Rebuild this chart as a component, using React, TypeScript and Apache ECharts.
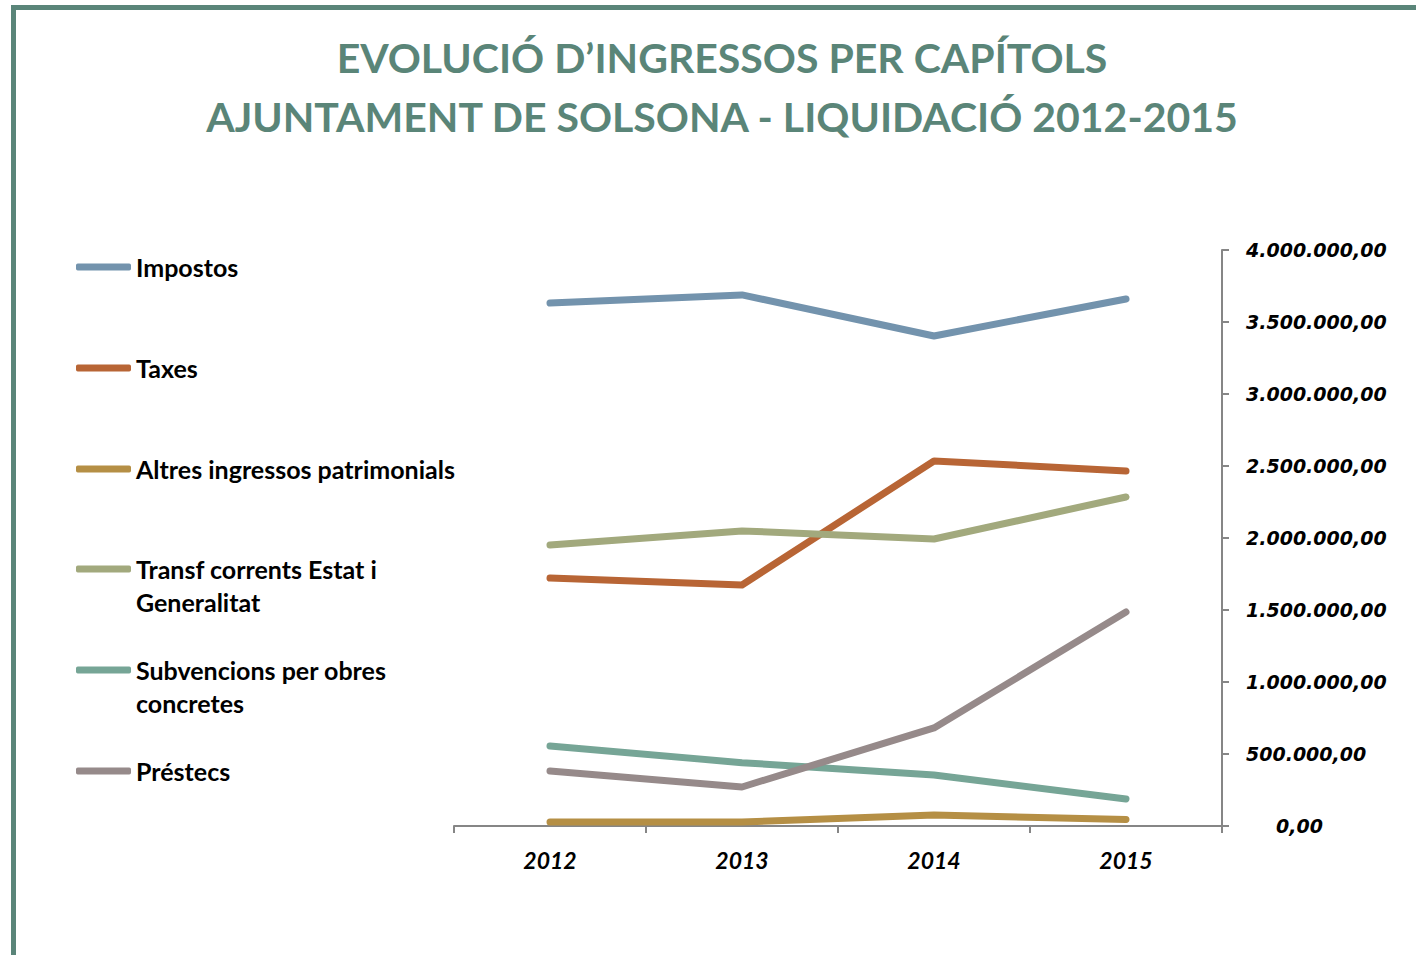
import React, { useEffect, useRef } from "react";
import * as echarts from "echarts";

const years = ["2012", "2013", "2014", "2015"];
const seriesNames = [
  "Impostos",
  "Taxes",
  "Altres ingressos patrimonials",
  "Transf corrents Estat i Generalitat",
  "Subvencions per obres concretes",
  "Préstecs",
];
const legendLabels = [
  "Impostos",
  "Taxes",
  "Altres ingressos patrimonials",
  "Transf corrents Estat i\nGeneralitat",
  "Subvencions per obres\nconcretes",
  "Préstecs",
];
const impostos = [3632000, 3688000, 3403000, 3660000];
const taxes = [1722000, 1674000, 2535000, 2465000];
const altres = [28000, 28000, 76000, 45000];
const transf = [1951000, 2049000, 1993000, 2285000];
const subvencions = [556000, 440000, 354000, 188000];
const prestecs = [382000, 271000, 681000, 1486000];
const seriesValues = [impostos, taxes, altres, transf, subvencions, prestecs];
const colors = ["#7393ad", "#b86535", "#b58f45", "#a2a97d", "#76a596", "#968a8a"];

const legendCenters = [267, 368, 469, 569, 670, 771];

function fmt(v: number): string {
  const s = Math.round(v).toString();
  const withDots = s.replace(/\B(?=(\d{3})+(?!\d))/g, ".");
  return withDots + ",00";
}

export default function App() {
  const ref = useRef<HTMLDivElement>(null);
  useEffect(() => {
    if (!ref.current) return;
    const chart = echarts.init(ref.current, null, { renderer: "svg" });
    const LH = 33;
    const legends = seriesNames.map((name, i) => {
      const multi = legendLabels[i].includes("\n");
      const top = multi ? legendCenters[i] - LH * 1.5 : legendCenters[i] - LH / 2;
      return {
        data: [name],
        orient: "vertical",
        left: 76,
        top: top,
        padding: 0,
        itemWidth: 55,
        itemHeight: 7,
        icon: "roundRect",
        selectedMode: false,
        formatter: () => (multi ? "\n" + legendLabels[i] : legendLabels[i]),
        textStyle: {
          fontFamily: "Lato",
          fontWeight: "bold",
          fontSize: 25,
          color: "#000000",
          lineHeight: LH,
        },
      };
    });
    chart.setOption({
      animation: false,
      backgroundColor: "#ffffff",
      title: {
        text: "EVOLUCIÓ D’INGRESSOS PER CAPÍTOLS\nAJUNTAMENT DE SOLSONA - LIQUIDACIÓ 2012-2015",
        left: 722,
        top: 28,
        padding: 0,
        textAlign: "center",
        textStyle: {
          fontFamily: "Lato",
          fontWeight: "bold",
          fontSize: 41,
          lineHeight: 59,
          color: "#5a8578",
        },
      },
      legend: legends,
      graphic: [
        {
          type: "rect",
          shape: { x: 13.5, y: 7.5, width: 1600, height: 1200 },
          style: { fill: "none", stroke: "#5a8579", lineWidth: 5 },
          silent: true,
        },
      ],
      grid: { left: 454, right: 194, top: 250, bottom: 129 },
      xAxis: {
        type: "category",
        data: years,
        boundaryGap: true,
        axisLine: { show: true, lineStyle: { color: "#868686", width: 2 } },
        axisTick: { show: true, length: 7, lineStyle: { color: "#868686", width: 2 } },
        axisLabel: {
          fontFamily: "Lato",
          fontWeight: "bold",
          fontStyle: "italic",
          fontSize: 23,
          color: "#000000",
          margin: 22,
        },
      },
      yAxis: {
        type: "value",
        position: "right",
        min: 0,
        max: 4000000,
        interval: 500000,
        axisLine: { show: true, lineStyle: { color: "#868686", width: 2 } },
        axisTick: { show: true, length: 7, lineStyle: { color: "#868686", width: 2 } },
        splitLine: { show: false },
        axisLabel: {
          margin: 24,
          fontFamily: "DejaVu Sans",
          fontWeight: "bold",
          fontStyle: "italic",
          fontSize: 19,
          color: "#000000",
          formatter: (v: number) => (v === 0 ? "{z|0,00}" : fmt(v)),
          rich: {
            z: {
              padding: [0, 0, 0, 30],
              fontFamily: "DejaVu Sans",
              fontWeight: "bold",
              fontStyle: "italic",
              fontSize: 19,
              color: "#000000",
            },
          },
        },
      },
      series: seriesNames.map((name, i) => ({
        name,
        type: "line",
        data: seriesValues[i],
        showSymbol: false,
        symbol: "none",
        color: colors[i],
        lineStyle: { color: colors[i], width: 7, cap: "round", join: "round" },
      })),
    });
    return () => chart.dispose();
  }, []);
  return (
    <div
      ref={ref}
      style={{ position: "fixed", left: 0, top: 0, width: 1416, height: 955 }}
    />
  );
}
